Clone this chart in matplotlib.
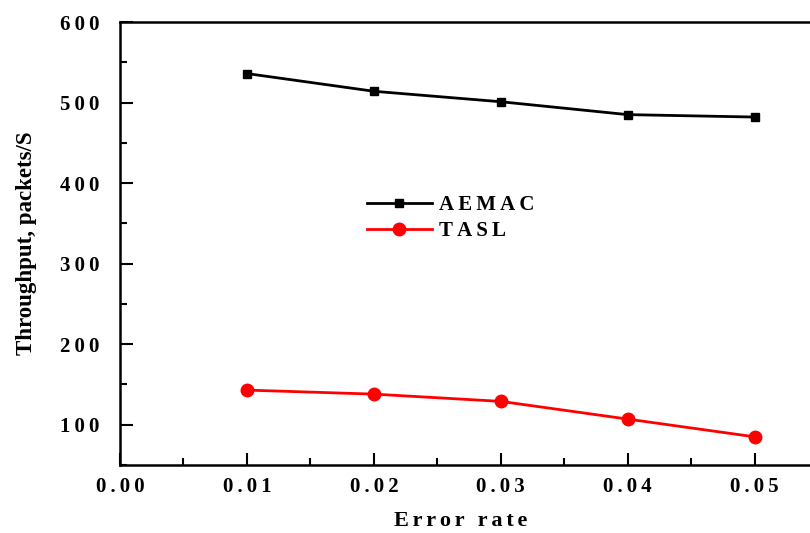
import numpy as np
import matplotlib
matplotlib.use("Agg")
import matplotlib.pyplot as plt
from matplotlib.ticker import MultipleLocator, FuncFormatter

# Dados
error_rate = [0.01, 0.02, 0.03, 0.04, 0.05]
aemac = [536, 514, 501, 485, 482]
tasl = [143, 138, 129, 107, 85]

plt.rcParams["font.family"] = ["Liberation Serif", "DejaVu Serif"]
plt.rcParams["font.weight"] = "bold"


def espacado(s, sep="\u2009"):
    # simula o espaçamento largo entre letras do original
    return sep.join(s)


fig = plt.figure(figsize=(8.1, 5.33), dpi=100)
ax = fig.add_axes([120 / 810, 1 - 465 / 533, 698 / 810, (465 - 22) / 533])

ax.plot(error_rate, aemac, color="black", linewidth=2, marker="s", markersize=6,
        label=espacado("AEMAC"))
ax.plot(error_rate, tasl, color="red", linewidth=2, marker="o", markersize=9,
        label=espacado("TASL"))

ax.set_xlim(0, 0.0550)
ax.set_ylim(50, 600)

ax.xaxis.set_major_locator(MultipleLocator(0.01))
ax.xaxis.set_minor_locator(MultipleLocator(0.005))
ax.yaxis.set_minor_locator(MultipleLocator(50))
ax.set_yticks([100, 200, 300, 400, 500, 600])
ax.xaxis.set_major_formatter(FuncFormatter(lambda v, p: espacado(f"{v:.2f}")))
ax.yaxis.set_major_formatter(FuncFormatter(lambda v, p: espacado(f"{v:.0f}")))

ax.tick_params(which="major", direction="in", length=9, width=1.5, labelsize=15)
ax.tick_params(which="minor", direction="in", length=5, width=1.5)
ax.tick_params(axis="y", pad=15)
ax.tick_params(axis="x", pad=9)

for lado in ["left", "bottom", "top"]:
    ax.spines[lado].set_linewidth(1.8)
ax.spines["right"].set_visible(False)

ax.set_xlabel(espacado("Error rate", "\u200a\u200a"), fontsize=16, fontweight="bold")
ax.xaxis.set_label_coords(341 / 698, -46 / 443)
ax.set_ylabel("Throughput, packets/S", fontsize=16.5, fontweight="bold", labelpad=16)

ax.legend(loc="upper left", bbox_to_anchor=(247 / 698, (465 - 195) / 443), frameon=False,
          fontsize=15, handlelength=3.1, handletextpad=0.35, labelspacing=0.28,
          borderpad=0, borderaxespad=0)

fig.savefig("out.png", dpi=100)
